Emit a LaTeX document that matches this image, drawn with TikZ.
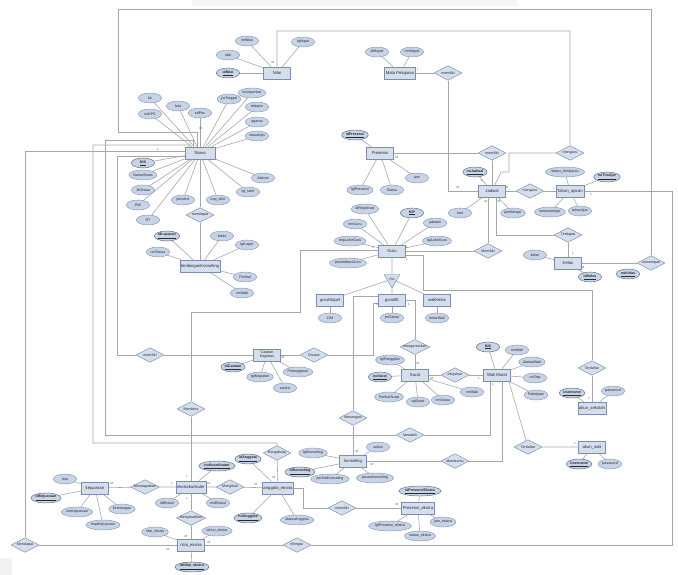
\documentclass[tikz,border=0pt]{standalone}
\usepackage{fontspec}
\setmainfont{Liberation Sans}
\usetikzlibrary{shapes.geometric}
\definecolor{entfill}{HTML}{D4DEEC}
\definecolor{entdraw}{HTML}{7C8EAD}
\definecolor{attfill}{HTML}{C7D3E6}
\definecolor{attdraw}{HTML}{8898B4}
\definecolor{lnc}{HTML}{A6A6A6}
\definecolor{txt}{HTML}{2A2A2A}
\pgfdeclarelayer{bg}
\pgfsetlayers{bg,main}
\tikzset{
  every node/.style={text=txt},
  ent/.style={draw=entdraw, fill=entfill, line width=0.5pt, minimum height=3.6mm,
    minimum width=8mm, inner sep=1pt, font=\fontsize{3.6}{4}\selectfont, align=center},
  att/.style={ellipse, draw=attdraw, fill=attfill, line width=0.4pt, minimum height=3mm,
    minimum width=7mm, inner sep=0.2pt, font=\fontsize{3.1}{3.5}\selectfont},
  key/.style={att, draw=attdraw!70!black, font=\fontsize{3.1}{3.5}\selectfont\bfseries},
  rel/.style={diamond, aspect=2, draw=entdraw, fill=entfill, line width=0.4pt,
    minimum width=8.4mm, minimum height=4.4mm, inner sep=0pt, font=\fontsize{3.1}{3.5}\selectfont},
  isa/.style={regular polygon, regular polygon sides=3, shape border rotate=180,
    draw=entdraw, fill=entfill, minimum size=5.4mm, inner sep=0pt, font=\fontsize{2.8}{3}\selectfont},
  ln/.style={draw=lnc, line width=0.5pt},
  card/.style={font=\fontsize{2.6}{3}\selectfont, inner sep=0.3pt, text=txt!80},
}
\begin{document}
\begin{tikzpicture}[x=0.3mm,y=-0.3mm]
  \useasboundingbox (0,0) rectangle (678,575);
  \fill[gray!7] (192,0) rectangle (518,6);
  \fill[gray!10] (0,558) rectangle (12,575);
  % entitas
  \node[ent] (nilai) at (277,73) {Nilai};
  \node[ent] (mapel) at (400,73) {Mata Pelajaran};
  \node[ent, minimum width=9mm] (siswa) at (200,153) {Siswa};
  \node[ent] (bk) at (200,266) {bimbinganKonseling};
  \node[ent] (presensi) at (380,153) {Presensi};
  \node[ent] (jadwal) at (492,191) {Jadwal};
  \node[ent] (thn) at (570,191) {Tahun\_ajaran};
  \node[ent] (kelas) at (568,263) {Kelas};
  \node[ent] (guru) at (392,251) {Guru};
  \node[ent] (gmapel) at (330,300) {guruMapel};
  \node[ent] (gbk) at (392,300) {guruBK};
  \node[ent] (wkelas) at (437,300) {waliKelas};
  \node[ent, font=\fontsize{3.1}{3.4}\selectfont] (catatan) at (267,355) {Catatan\\Kegiatan};
  \node[ent] (surat) at (415,375) {Surat};
  \node[ent] (wali) at (497,375) {Wali Murid};
  \node[ent] (aksek) at (592,408) {akun\_sekolah};
  \node[ent] (akwali) at (592,447) {akun\_wali};
  \node[ent] (juara) at (95,488) {kejuaraan};
  \node[ent] (ekskul) at (191,487) {ekstrakurikuler};
  \node[ent] (nekskul) at (191,545) {nilai\_ekstra};
  \node[ent] (anggota) at (278,488) {anggota\_ekstra};
  \node[ent] (konsel) at (353,461) {konseling};
  \node[ent] (presek) at (418,508) {Presensi\_ekstra};
  \node[isa] (isa) at (392,279) {ISA};
  % relasi
  \node[rel] (r1) at (448,73) {memiliki};
  \node[rel] (r2) at (492,153) {memiliki};
  \node[rel] (r3) at (570,153) {mengacu};
  \node[rel] (r4) at (530,191) {mengacu};
  \node[rel] (r5) at (568,235) {Terdapat};
  \node[rel] (r6) at (651,263) {menempati};
  \node[rel] (r7) at (488,251) {Memiliki};
  \node[rel] (r8) at (200,215) {mendapat};
  \node[rel] (r9) at (150,355) {memiliki};
  \node[rel] (r10) at (191,409) {Membina};
  \node[rel] (r11) at (314,355) {Dicatat};
  \node[rel] (r12) at (415,347) {mengantarkan};
  \node[rel] (r13) at (455,375) {ditujukan};
  \node[rel] (r14) at (528,447) {Terdaftar};
  \node[rel] (r15) at (592,368) {Terdaftar};
  \node[rel] (r16) at (353,418) {Menangani};
  \node[rel] (r17) at (410,435) {Mewakili};
  \node[rel] (r18) at (455,461) {Membantu};
  \node[rel] (r19) at (277,453) {Bergabung};
  \node[rel] (r20) at (230,487) {Mengikuti};
  \node[rel] (r21) at (145,487) {Mendapatkan};
  \node[rel] (r22) at (191,518) {Menghasilkan};
  \node[rel] (r23) at (25,545) {Mendapat};
  \node[rel] (r24) at (297,545) {Mengisi};
  \node[rel] (r25) at (342,508) {memiliki};
  % atribut
  \foreach \p/\x/\y/\t in {nilai/247/41/jmlNilai, nilai/228/55/nilai, nilai/303/42/tglInput,
      mapel/377/52/idMapel, mapel/412/52/nmMapel,
      siswa/150/98/kk, siswa/150/114/noKPS, siswa/178/106/foto, siswa/200/113/kdPos,
      siswa/229/99/jnsTinggal, siswa/252/93/transportasi, siswa/257/107/telepon,
      siswa/257/122/agama, siswa/257/136/statusKps,
      siswa/143/175/NamaSiswa, siswa/143/190/JKSiswa, siswa/138/205/RW, siswa/148/220/RT,
      siswa/183/200/jenisKel, siswa/218/200/tmp\_lahir, siswa/248/192/tgl\_lahir, siswa/263/178/Alamat,
      bk/158/252/nmSiswa, bk/222/236/kelas, bk/247/245/tglLapor, bk/245/277/Perihal, bk/242/293/nmWali,
      presensi/360/190/tglPresensi, presensi/392/190/Status, presensi/417/178/jam,
      jadwal/460/213/hari, jadwal/513/213/jamBelajar,
      thn/565/172/status\_thnAjaran, thn/550/212/semesterAjar, thn/580/211/tahunAjar,
      kelas/535/255/kelas,
      guru/365/209/idRegistrasi, guru/355/224/nmGuru, guru/435/223/jabatan,
      guru/350/241/tmpLahirGuru, guru/437/241/tglLahirGuru, guru/348/263/pendidikanGuru,
      gmapel/330/318/JJM, gbk/392/318/jmlSiswa, wkelas/437/318/kelasWali,
      catatan/260/377/tglKegiatan, catatan/298/372/Pelanggaran, catatan/285/388/sanksi,
      surat/390/360/tglPanggilan, surat/389/397/PerihalSurat, surat/418/402/tglSurat,
      surat/443/400/nmSiswa, surat/472/392/nmWali,
      wali/517/350/nmWali, wali/532/362/AlamatWali, wali/535/378/noTelp, wali/536/395/Pekerjaan,
      aksek/613/391/password, akwali/610/464/password,
      juara/65/479/foto, juara/77/512/nmKejuaraan, juara/103/525/tmptKejuaraan, juara/122/509/keterangan,
      ekskul/167/503/idEkskul, ekskul/218/503/nmEkskul,
      nekskul/155/532/nilai\_ekstra, nekskul/217/531/tahun\_ekstra,
      anggota/297/520/statusAnggota,
      konsel/313/453/tglKonseling, konsel/330/479/perihalKonseling, konsel/378/447/solusi,
      konsel/375/478/pesanKonseling,
      presek/390/526/tglPresensi\_ekstra, presek/420/536/status\_ekstra, presek/443/522/jam\_ekstra} {
    \begin{pgfonlayer}{bg}
      \draw[ln] (\p) -- (\x,\y);
    \end{pgfonlayer}
    \node[att] (a\x-\y) at (\x,\y) {\t};
  }
  \foreach \p/\x/\y/\t in {nilai/228/73/idNilai, siswa/143/163/NIS, bk/167/236/idLaporan,
      presensi/355/135/idPresensi, jadwal/475/172/noJadwal, thn/607/177/noThnAjar,
      kelas/590/277/idKelas, guru/412/213/NIP, catatan/233/367/idCatatan, surat/380/377/noSurat,
      wali/488/347/NIK, aksek/572/393/Username, akwali/579/464/Username,
      juara/46/498/idKejuaraan, ekskul/217/466/noKoordinator, nekskul/192/567/idNilai\_ekstra,
      anggota/248/459/idAnggota, anggota/248/518/noAnggota, konsel/300/472/idKonseling,
      presek/420/491/idPresensiEkstra} {
    \begin{pgfonlayer}{bg}
      \draw[ln] (\p) -- (\x,\y);
    \end{pgfonlayer}
    \node[key] (k\x-\y) at (\x,\y) {\underline{\t}};
  }
  \node[key] (nokelas) at (628,274) {\underline{noKelas}};
  % kardinalitas
  \foreach \x/\y/\t in {273/62/M, 418/69/1, 397/157/M, 482/180/1, 458/187/M, 486/201/M,
      499/201/M, 507/187/M, 554/188/1, 591/194/1, 573/253/1, 583/267/M, 201/128/M, 158/149/1,
      373/247/1, 407/247/1, 407/259/1, 377/304/1, 409/304/1, 283/357/M, 418/363/M, 432/378/M,
      479/378/1, 493/384/1, 589/398/1, 575/443/1, 112/483/M, 172/483/1, 209/483/M,
      187/476/1, 187/498/1, 168/549/M, 186/536/M, 209/542/M, 274/477/M, 256/484/M,
      357/451/M, 372/464/M, 397/504/M} {
    \node[card] (c\x-\y) at (\x,\y) {\t};
  }
  % garis relasi
  \begin{pgfonlayer}{bg}
    \draw[ln] (mapel) -- (r1) -- (448,191) -- (jadwal);
    \draw[ln] (presensi) -- (r2) -- (jadwal);
    \draw[ln] (nilai) -- (277,31) -- (570,31) -- (r3) -- (509,153) -- (509,172) -- (501,172) -- (jadwal);
    \draw[ln] (jadwal) -- (r4) -- (thn);
    \draw[ln] (496,191) -- (496,235) -- (r5) -- (kelas);
    \draw[ln] (197,153) -- (197,132) -- (118,132) -- (118,9) -- (651,9) -- (r6) -- (kelas);
    \draw[ln] (488,191) -- (r7) -- (guru);
    \draw[ln] (siswa) -- (r8) -- (bk);
    \draw[ln] (200,156) -- (117,156) -- (117,355) -- (r9) -- (catatan);
    \draw[ln] (392,250) -- (300,250) -- (300,312) -- (191,312) -- (r10) -- (ekskul);
    \draw[ln] (catatan) -- (r11) -- (373,355) -- (373,303) -- (392,303);
    \draw[ln] (392,300) -- (415,300) -- (r12) -- (surat);
    \draw[ln] (surat) -- (r13) -- (wali);
    \draw[ln] (507,375) -- (r14) -- (akwali);
    \draw[ln] (392,255) -- (423,255) -- (423,290) -- (592,290) -- (r15) -- (aksek);
    \draw[ln] (392,296) -- (353,296) -- (r16) -- (konsel);
    \draw[ln] (193,153) -- (193,140) -- (105,140) -- (105,435) -- (r17) -- (490,435) -- (490,375);
    \draw[ln] (konsel) -- (r18) -- (502,461) -- (502,375);
    \draw[ln] (189,153) -- (189,145) -- (93,145) -- (93,443) -- (277,443) -- (r19) -- (anggota);
    \draw[ln] (ekskul) -- (r20) -- (anggota);
    \draw[ln] (juara) -- (r21) -- (ekskul);
    \draw[ln] (ekskul) -- (r22) -- (nekskul);
    \draw[ln] (200,151) -- (25,151) -- (r23) -- (nekskul);
    \draw[ln] (nekskul) -- (r24) -- (672,545) -- (672,191) -- (thn);
    \draw[ln] (anggota) -- (303,488) -- (303,508) -- (r25) -- (presek);
    \draw[ln] (guru) -- (isa);
    \draw[ln] (isa) -- (gmapel);
    \draw[ln] (isa) -- (gbk);
    \draw[ln] (isa) -- (wkelas);
  \end{pgfonlayer}
\end{tikzpicture}
\end{document}
